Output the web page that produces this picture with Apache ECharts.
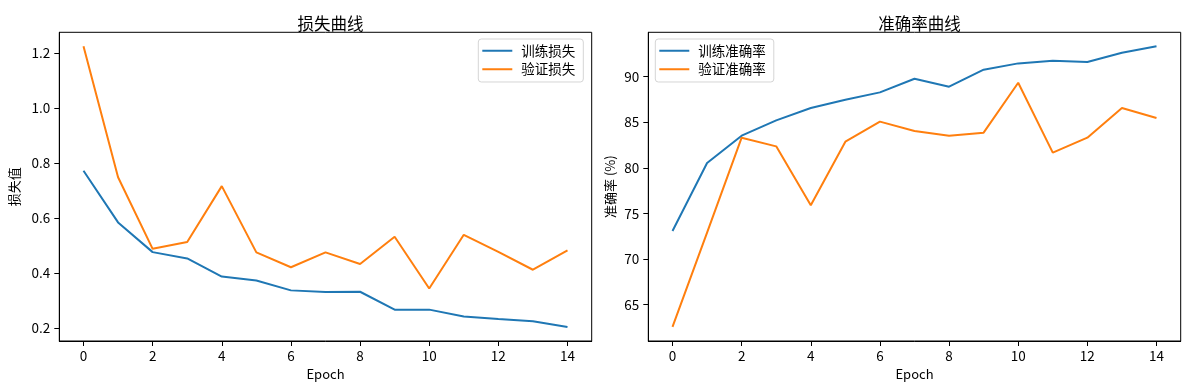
<!DOCTYPE html>
<html>
<head>
<meta charset="utf-8">
<script src="https://cdn.jsdelivr.net/npm/echarts@6/dist/echarts.min.js"></script>
<style>
html,body{margin:0;padding:0;background:#fff;}
#c{width:1189px;height:390px;}
</style>
</head>
<body>
<div id="c"></div>
<script>
const epochs = [0,1,2,3,4,5,6,7,8,9,10,11,12,13,14];
const trainLoss = [0.772,0.584,0.476,0.453,0.387,0.373,0.337,0.331,0.332,0.267,0.267,0.242,0.233,0.225,0.204];
const valLoss = [1.224,0.748,0.488,0.513,0.716,0.475,0.421,0.475,0.433,0.532,0.344,0.539,0.477,0.412,0.482];
const trainAcc = [73.08,80.53,83.53,85.21,86.56,87.48,88.28,89.78,88.90,90.77,91.46,91.75,91.61,92.63,93.33];
const valAcc = [62.55,72.9,83.31,82.36,75.89,82.87,85.07,84.04,83.53,83.86,89.34,81.67,83.31,86.56,85.47];
const xTicks = [0,2,4,6,8,10,12,14];
const lossTicks = [0.2,0.4,0.6,0.8,1.0,1.2];
const accTicks = [65,70,75,80,85,90];

const FONT = '"Noto Sans CJK SC", "Noto Sans", sans-serif';
const BLUE = '#1f77b4', ORANGE = '#ff7f0e';

function lim(arrs){
  const all = [].concat(...arrs);
  const mn = Math.min(...all), mx = Math.max(...all);
  const m = (mx - mn) * 0.05;
  return [mn - m, mx + m];
}
const xl = lim([epochs]);
const ll = lim([trainLoss, valLoss]);
const al = lim([trainAcc, valAcc]);

const pairs = (ys) => epochs.map((e,i)=>[e, ys[i]]);

function xAxis(gi){
  return {
    type:'value', gridIndex:gi, min:xl[0], max:xl[1],
    name:'Epoch', nameLocation:'middle', nameGap:25,
    nameTextStyle:{color:'#000', fontSize:13, fontFamily:FONT},
    axisLine:{show:true, onZero:false, lineStyle:{color:'#000', width:1}},
    axisTick:{show:true, inside:false, length:5, lineStyle:{color:'#000'}, customValues:xTicks},
    axisLabel:{color:'#000', fontSize:13.5, fontFamily:FONT, margin:8, customValues:xTicks},
    splitLine:{show:false}
  };
}
function yAxis(gi, l, ticks, name, gap, fmt){
  return {
    type:'value', gridIndex:gi, min:l[0], max:l[1],
    name:name, nameLocation:'middle', nameGap:gap, nameRotate:90,
    nameTextStyle:{color:'#000', fontSize:13, fontFamily:FONT},
    axisLine:{show:true, onZero:false, lineStyle:{color:'#000', width:1}},
    axisTick:{show:true, inside:false, length:5, lineStyle:{color:'#000'}, customValues:ticks},
    axisLabel:{color:'#000', fontSize:13.5, fontFamily:FONT, margin:9, customValues:ticks, formatter:fmt},
    splitLine:{show:false}
  };
}
function legend(names, left){
  return {
    data:names, orient:'vertical', left:left, top:39,
    icon:'rect', itemWidth:30, itemHeight:2, itemGap:5,
    padding:[5,8,6,4],
    borderColor:'#d5d5d5', borderWidth:1, borderRadius:3,
    backgroundColor:'rgba(255,255,255,0.8)',
    textStyle:{color:'#000', fontSize:13.5, fontFamily:FONT, padding:[0,0,0,4]}
  };
}
function line(name, ys, color, gi){
  return {
    type:'line', name:name, xAxisIndex:gi, yAxisIndex:gi, data:pairs(ys),
    showSymbol:false, symbol:'none', lineStyle:{color:color, width:2}, itemStyle:{color:color},
    animation:false
  };
}

const chart = echarts.init(document.getElementById('c'), null, {renderer:'canvas'});
chart.setOption({
  animation:false,
  backgroundColor:'#fff',
  title:[
    {text:'损失曲线', left:325.5, top:10, textAlign:'center', textStyle:{color:'#000', fontSize:16.5, fontWeight:'normal', fontFamily:FONT}},
    {text:'准确率曲线', left:914.5, top:10, textAlign:'center', textStyle:{color:'#000', fontSize:16.5, fontWeight:'normal', fontFamily:FONT}}
  ],
  grid:[
    {left:59.3, right:597.3, top:32.3, bottom:49, show:true, borderColor:'#000', borderWidth:1, backgroundColor:'transparent'},
    {left:648.3, right:8.3, top:32.3, bottom:49, show:true, borderColor:'#000', borderWidth:1, backgroundColor:'transparent'}
  ],
  legend:[ legend(['训练损失','验证损失'], 478.3), legend(['训练准确率','验证准确率'], 655.3) ],
  xAxis:[ xAxis(0), xAxis(1) ],
  yAxis:[
    yAxis(0, ll, lossTicks, '损失值', 39, v=>v.toFixed(1)),
    yAxis(1, al, accTicks, '准确率 (%)', 32, v=>String(Math.round(v)))
  ],
  series:[
    line('训练损失', trainLoss, BLUE, 0),
    line('验证损失', valLoss, ORANGE, 0),
    line('训练准确率', trainAcc, BLUE, 1),
    line('验证准确率', valAcc, ORANGE, 1)
  ]
});
</script>
</body>
</html>
